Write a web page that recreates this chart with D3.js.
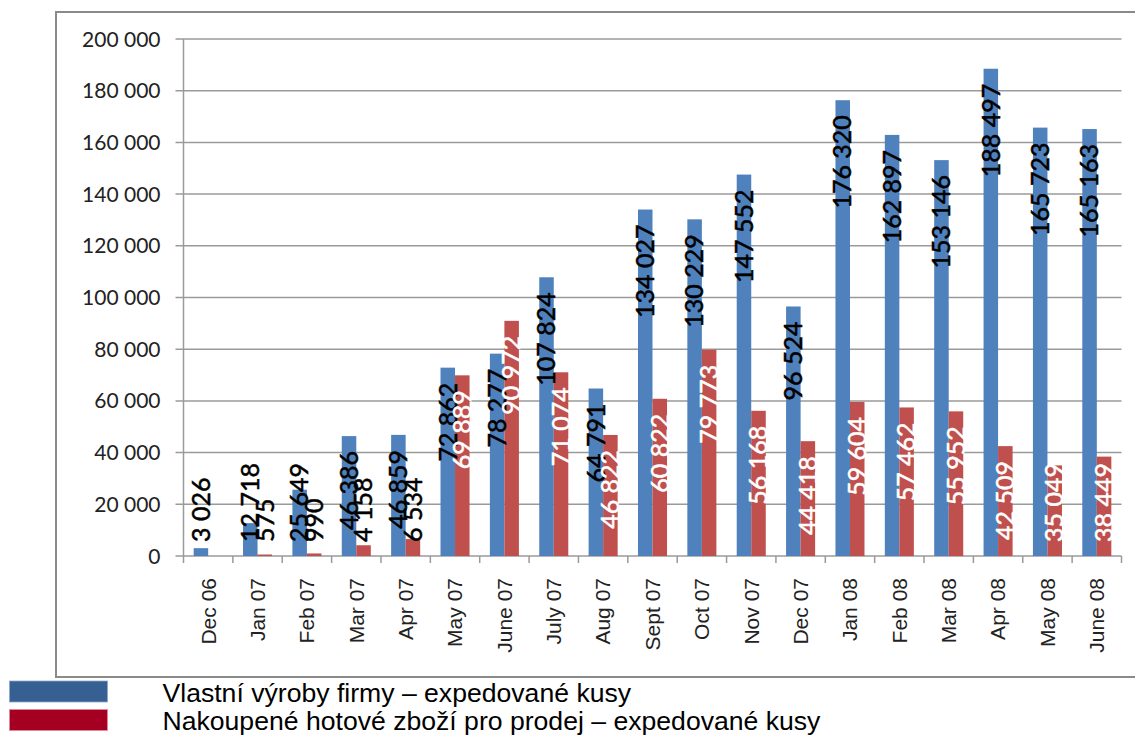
<!DOCTYPE html>
<html lang="cs">
<head>
  <meta charset="utf-8">
  <title>Expedované kusy</title>
  <script src="https://d3js.org/d3.v7.min.js"></script>
  <style>
    body { margin: 0; background: #fff; }
    .num { font-family: Lato, "Open Sans", sans-serif; }
    .lab { font-family: "Liberation Sans", Arial, sans-serif; }
  </style>
</head>
<body>
<script>
  // data
  var months = ["Dec 06", "Jan 07", "Feb 07", "Mar 07", "Apr 07", "May 07", "June 07", "July 07",
    "Aug 07", "Sept 07", "Oct 07", "Nov 07", "Dec 07", "Jan 08", "Feb 08", "Mar 08", "Apr 08",
    "May 08", "June 08"];
  var vlastni = [3026, 12718, 25649, 46386, 46859, 72862, 78277, 107824, 64791, 134027, 130229,
    147552, 96524, 176320, 162897, 153146, 188497, 165723, 165163];
  var nakoupene = [null, 575, 990, 4158, 6534, 69889, 90972, 71074, 46822, 60822, 79773,
    56168, 44418, 59604, 57462, 55952, 42509, 35049, 38449];
  var yTicks = [0, 20000, 40000, 60000, 80000, 100000, 120000, 140000, 160000, 180000, 200000];
  var seriesNames = ["Vlastní výroby firmy – expedované kusy",
    "Nakoupené hotové zboží pro prodej – expedované kusy"];

  var width = 1135;
  var height = 735;
  // plot area edges (note: "top" is taken by window.top)
  var plotLeft = 183.5, plotRight = 1121.5, plotTop = 39, base = 556;

  var svg = d3.select("body")
    .append("svg")
    .attr("width", width)
    .attr("height", height);

  // outer frame of the chart area (runs off the right edge)
  svg.append("rect")
    .attr("x", 56).attr("y", 12)
    .attr("width", 1100).attr("height", 665)
    .attr("fill", "none")
    .attr("stroke", "#8a8a8a")
    .attr("stroke-width", 2);

  var x = d3.scaleBand().domain(months).range([plotLeft, plotRight]);
  var xs = d3.scaleBand().domain([0, 1]).range([0, x.bandwidth()]).paddingOuter(0.7);
  var y = d3.scaleLinear().domain([0, 200000]).range([base, plotTop]);

  var fmt = d3.formatLocale({ decimal: ",", thousands: " ", grouping: [3], currency: ["", ""] })
    .format(",d");

  // gridlines + y ticks
  svg.append("g").selectAll("line")
    .data(yTicks)
    .enter()
    .append("line")
    .attr("x1", plotLeft - 8).attr("x2", plotRight)
    .attr("y1", function(d) { return y(d); })
    .attr("y2", function(d) { return y(d); })
    .attr("stroke", "#9a9a9a")
    .attr("stroke-width", 1.5);

  svg.append("line")
    .attr("x1", plotLeft).attr("x2", plotLeft)
    .attr("y1", plotTop).attr("y2", base)
    .attr("stroke", "#9a9a9a")
    .attr("stroke-width", 1.5);

  svg.append("g").selectAll("text")
    .data(yTicks)
    .enter()
    .append("text")
    .attr("class", "num")
    .attr("x", plotLeft - 23)
    .attr("y", function(d) { return y(d); })
    .attr("dy", "0.36em")
    .attr("text-anchor", "end")
    .attr("font-size", 21)
    .attr("fill", "#222")
    .text(function(d) { return fmt(d); });

  // x axis: ticks on category boundaries
  var bounds = months.map(function(m) { return x(m); }).concat([x(months[months.length - 1]) + x.step()]);
  svg.append("g").selectAll("line")
    .data(bounds)
    .enter()
    .append("line")
    .attr("x1", function(d) { return d; })
    .attr("x2", function(d) { return d; })
    .attr("y1", base).attr("y2", base + 7)
    .attr("stroke", "#9a9a9a")
    .attr("stroke-width", 1.5);

  svg.append("g").selectAll("text")
    .data(months)
    .enter()
    .append("text")
    .attr("class", "lab")
    .attr("transform", function(d) {
      return "translate(" + (x(d) + x.bandwidth() / 2) + "," + base + ") rotate(-90)";
    })
    .attr("x", -22)
    .attr("dy", "0.35em")
    .attr("text-anchor", "end")
    .attr("font-size", 21)
    .attr("fill", "#222")
    .text(function(d) { return d; });

  // bars
  var series = [
    { values: vlastni, color: "#4f81bd" },
    { values: nakoupene, color: "#c0504d" }
  ];

  function rowsOf(s) {
    return months.map(function(m, j) { return { m: m, v: s.values[j] }; })
      .filter(function(r) { return r.v != null; });
  }

  series.forEach(function(s, i) {
    svg.append("g").selectAll("rect")
      .data(rowsOf(s))
      .enter()
      .append("rect")
      .attr("x", function(d) { return x(d.m) + xs(i); })
      .attr("width", xs.bandwidth())
      .attr("y", function(d) { return y(d.v); })
      .attr("height", function(d) { return base - y(d.v); })
      .attr("fill", s.color);
  });

  // value labels, rotated, placed at the inside end of each bar
  series.forEach(function(s, i) {
    svg.append("g").selectAll("text")
      .data(rowsOf(s))
      .enter()
      .append("text")
      .attr("class", "num")
      .attr("font-size", 25)
      .attr("text-anchor", "end")
      .attr("dy", "0.35em")
      .attr("fill", function(d) { return (i == 0 || d.v < 10000) ? "#000" : "#fff"; })
      .attr("stroke", function(d) { return (i == 0 || d.v < 10000) ? "#000" : "#fff"; })
      .attr("stroke-width", 0.5)
      .text(function(d) { return fmt(d.v); })
      .each(function(d) {
        var len = this.getComputedTextLength();
        var yEnd = Math.min(y(d.v) + 15, base - 14 - len);
        var cx = x(d.m) + xs(i) + xs.bandwidth() / 2;
        d3.select(this).attr("transform", "translate(" + cx + "," + yEnd + ") rotate(-90)");
      });
  });

  // legend below the frame
  var legendColors = ["#366092", "#a50021"];
  var legend = svg.append("g");
  legend.selectAll("rect")
    .data(seriesNames)
    .enter()
    .append("rect")
    .attr("x", 9.5)
    .attr("y", function(d, i) { return 681 + i * 28.5; })
    .attr("width", 98)
    .attr("height", 21)
    .attr("fill", function(d, i) { return legendColors[i]; })
    .attr("stroke", function(d, i) { return i == 0 ? "#8fa9cc" : "#e08a98"; })
    .attr("stroke-width", 0.8);

  legend.selectAll("text")
    .data(seriesNames)
    .enter()
    .append("text")
    .attr("class", "lab")
    .attr("x", 162.5)
    .attr("y", function(d, i) { return 701.5 + i * 28.5; })
    .attr("font-size", 26.6)
    .attr("fill", "#000")
    .text(function(d) { return d; });
</script>
</body>
</html>
